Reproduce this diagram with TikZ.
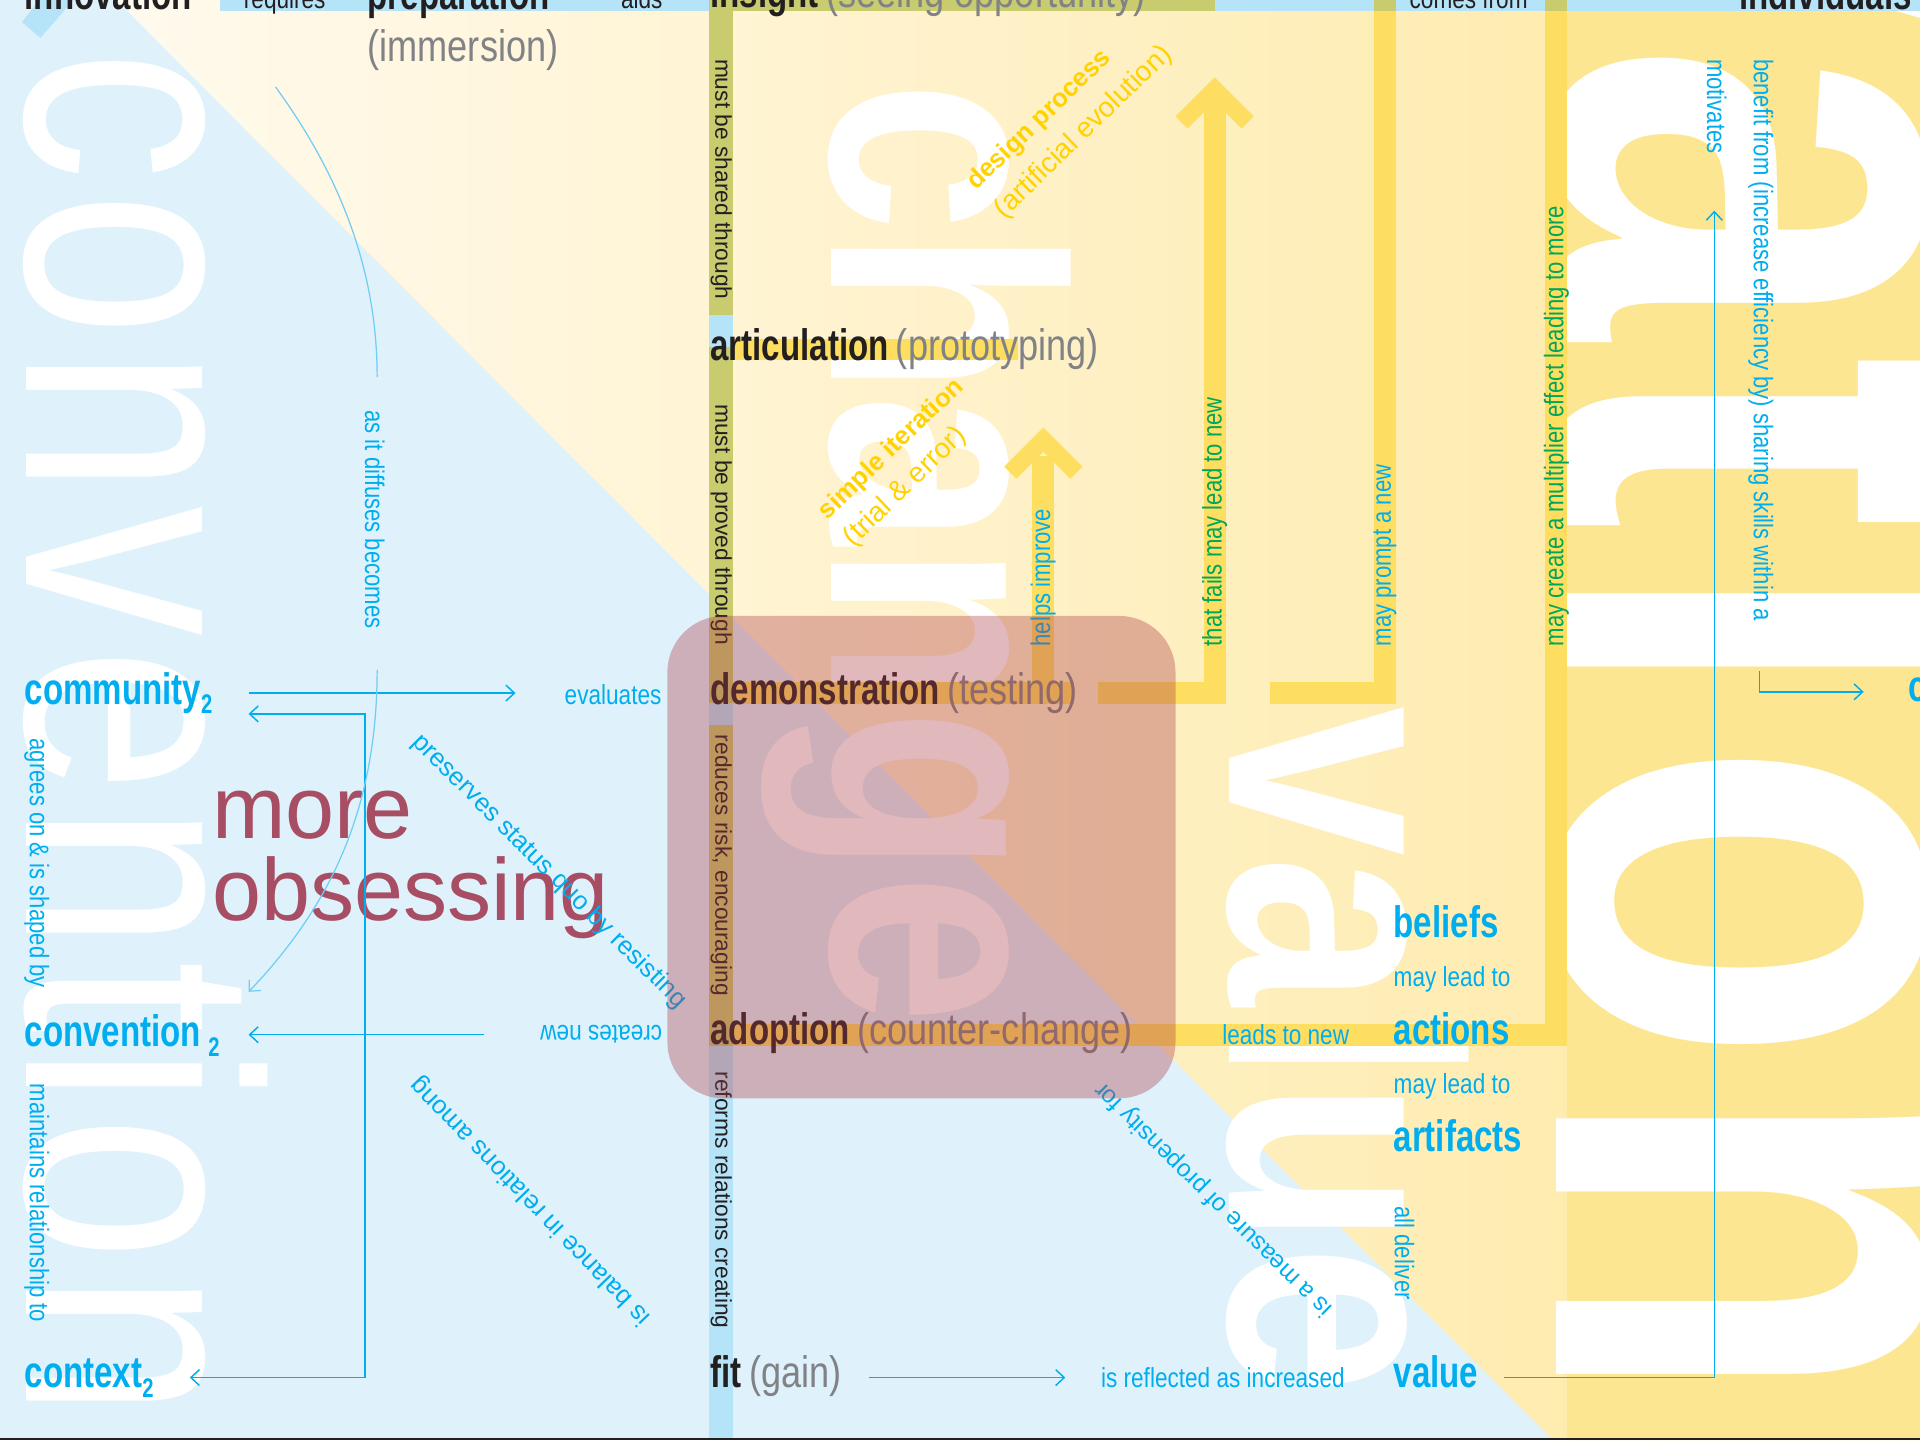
\documentclass[tikz,border=0pt]{standalone}
\usepackage{fontspec}
\setmainfont{Liberation Sans}
\newfontfamily\cnd{Liberation Sans}[FakeStretch=0.82]
\newfontfamily\cndb{Liberation Sans}[FakeStretch=0.75]
\newfontfamily\wordlight{Liberation Sans}[FakeStretch=0.78,LetterSpace=3.7]
\newfontfamily\wordbold{Liberation Sans}[FakeStretch=0.815]
\newfontfamily\wordwide{Liberation Sans}[FakeStretch=0.77,LetterSpace=2.3]
\usetikzlibrary{arrows.meta,calc}
\definecolor{bgblue}{RGB}{223,242,252}
\definecolor{stripblue}{RGB}{181,227,248}
\definecolor{cream}{RGB}{255,250,238}
\definecolor{sand}{RGB}{254,232,160}
\definecolor{gold}{RGB}{253,230,145}
\definecolor{barY}{RGB}{253,222,96}
\definecolor{olive}{RGB}{200,203,110}
\definecolor{linkcyan}{RGB}{0,174,239}
\definecolor{paleCyan}{RGB}{110,205,245}
\definecolor{inkdark}{RGB}{35,31,32}
\definecolor{inkgray}{RGB}{128,130,133}
\definecolor{leafgreen}{RGB}{0,166,90}
\definecolor{sunyellow}{RGB}{255,210,0}
\definecolor{plum}{RGB}{167,78,100}
\definecolor{boxrose}{RGB}{173,59,69}
\newcommand{\fsz}[1]{\fontsize{#1}{#1}\selectfont}
\newcommand{\two}{\raisebox{-8pt}{\fsz{22}2}}
\newcommand{\aside}[1]{{\cnd\mdseries\color{inkgray}#1}}

\begin{document}
\begin{tikzpicture}[x=1pt,y=-1pt,
  >={Straight Barb[length=7pt,width=13pt]},
  head/.style={inner sep=0pt,anchor=base west,font=\cndb\bfseries\fsz{36},text=inkdark},
  term/.style={inner sep=0pt,anchor=base west,font=\cndb\bfseries\fsz{36},text=linkcyan},
  verb/.style={inner sep=0pt,anchor=base west,font=\cnd\fsz{22.5},text=linkcyan},
  upverb/.style={inner sep=0pt,anchor=west,rotate=90,font=\cnd\fsz{22},text=#1},
  upverb/.default=linkcyan,
  downverb/.style={inner sep=0pt,anchor=west,rotate=-90,font=\cnd\fsz{22},text=linkcyan},
  slant/.style={inner sep=0pt,anchor=base west,rotate=#1,font=\fsz{21},text=linkcyan},
  spinenote/.style={inner sep=0pt,anchor=west,rotate=-90,font=\fsz{18.6},text=inkdark},
  method/.style={inner sep=0pt,anchor=base west,rotate=44,text=sunyellow},
  bigword/.style={inner sep=0pt,anchor=base west,rotate=-90,text=white},
  link/.style={linkcyan,line width=1.2pt},
  faint/.style={paleCyan,line width=1pt},
  chevron/.style={barY,line width=14pt,line join=miter}]

  \useasboundingbox (0,0) rectangle (1568,1176);
  \clip (0,0) rectangle (1568,1176);

  % ground
  \fill[bgblue] (0,0) rectangle (1568,1176);
  \shade[left color=cream,right color=sand] (95,0) -- (1568,0) -- (1568,1176) -- (1268,1176) -- cycle;
  \fill[gold] (1280,0) rectangle (1568,1176);
  \fill[stripblue] (32,0) -- (18,18) -- (33,31) -- (60,0) -- cycle;

  % big background words
  \node[bigword,font=\wordlight\fsz{272}] (wconv) at (22,41) {convention};
  \node[bigword,font=\wordbold\bfseries\fsz{270}] (wchange) at (679,66) {change};
  \node[bigword,font=\wordbold\bfseries\fsz{270}] (wvalue) at (1004,577) {value};
  \node[bigword,font=\wordwide\bfseries\fsz{566}] (wvation) at (1271,-225)
    {v\kern17pt at\kern20pt i\kern28pt on};

  % strip and spine
  \fill[stripblue] (180,0) rectangle (1568,9);
  \fill[stripblue] (579,0) rectangle (599,1176);
  \foreach \a/\b in {0/257,283/574,592/854}
    \fill[olive] (579,\a) rectangle (599,\b);

  % yellow tracks
  \fill[barY] (599,277) rectangle (831,294);
  \fill[barY] (599,557) rectangle (877,575);
  \fill[barY] (897,557) rectangle (1001,575);
  \fill[barY] (983,80) rectangle (1001,575);
  \fill[barY] (1037,557) rectangle (1140,575);
  \fill[barY] (1122,0) rectangle (1140,575);
  \fill[barY] (843,372) rectangle (861,575);
  \fill[barY] (599,836) rectangle (1280,854);
  \fill[barY] (1262,0) rectangle (1280,854);
  \draw[chevron] (965,100) -- (992,73) -- (1019,100);
  \draw[chevron] (825,386) -- (852,359) -- (879,386);
  \foreach \a/\b in {580/992,1122/1140,1262/1280}
    \fill[olive] (\a,0) rectangle (\b,9);

  % stages
  \node[head] (innov) at (20,8) {innovation};
  \node[verb,text=inkdark] (requires) at (199,7) {requires};
  \node[head] (prep) at (300,8) {preparation};
  \node[head,font=\cnd\fsz{36},text=inkgray] (immers) at (300,50) {(immersion)};
  \node[verb,text=inkdark] (aids) at (507,7) {aids};
  \node[head] (insight) at (580,6) {insight\hspace{6pt}\aside{(seeing opportunity)}};
  \node[verb,text=inkdark] (comes) at (1151,7) {comes from};
  \node[head] (indiv) at (1420,8) {individuals};
  \node[head] (artic) at (580,294) {articulation\hspace{6pt}\aside{(prototyping)}};
  \node[head] (demo) at (580,575) {demonstration\hspace{6pt}\aside{(testing)}};
  \node[head] (adopt) at (580,853) {adoption\hspace{6pt}\aside{(counter-change)}};
  \node[head] (fit) at (580,1133) {fit\hspace{6pt}\aside{(gain)}};

  \node[term] (comm) at (20,575) {community\two};
  \node[term] (conv) at (20,855) {convention\,\two};
  \node[term] (ctx) at (20,1133) {context\two};
  \node[term] (beliefs) at (1138,766) {beliefs};
  \node[verb] (lead1) at (1138,806) {may lead to};
  \node[term] (actions) at (1138,853) {actions};
  \node[verb] (lead2) at (1138,893) {may lead to};
  \node[term] (artifacts) at (1138,940) {artifacts};
  \node[term] (valuenode) at (1138,1133) {value};
  \node[term] (cnode) at (1558,573) {c};

  \node[verb] (eval) at (461,575) {evaluates};
  \node[verb,anchor=center,rotate=180] (creates) at (491,845) {creates new};
  \node[verb] (leads) at (998,853) {leads to new};
  \node[verb] (reflect) at (899,1133) {is reflected as increased};

  \node[inner sep=0pt,anchor=base west,font=\fsz{72},text=plum] (more) at (173,685) {more};
  \node[inner sep=0pt,anchor=base west,font=\fsz{72},text=plum] (obsess) at (173,752) {obsessing};

  % notes along the spine
  \node[spinenote] (shared) at (589,48) {must be shared through};
  \node[spinenote] (proved) at (589,330) {must be proved through};
  \node[spinenote] (reduces) at (589,600) {reduces risk, encouraging};
  \node[spinenote] (reforms) at (589,875) {reforms relations creating};

  \node[downverb] (diffuse) at (306,335) {as it diffuses becomes};
  \node[downverb] (agrees) at (30,603) {agrees on \& is shaped by};
  \node[downverb] (maintains) at (30,885) {maintains relationship to};
  \node[downverb] (motiv) at (1402,48) {motivates};
  \node[downverb] (benefit) at (1438,48) {benefit from (increase efficiency by) sharing skills within a};
  \node[downverb] (deliver) at (1147,985) {all deliver};

  \node[upverb] (helps) at (852,528) {helps improve};
  \node[upverb=leafgreen] (fails) at (992,528) {that fails may lead to new};
  \node[upverb] (prompt) at (1131,528) {may prompt a new};
  \node[upverb=leafgreen] (multi) at (1271,528) {may create a multiplier effect leading to more};

  \node[slant=-45] (preserve) at (336,607) {preserves status quo by resisting};
  \node[slant=134] (balance) at (532,1075) {is balance in relations among};
  \node[slant=135.5,font=\fsz{20}] (measure) at (1089,1068) {is a measure of propensity for};

  \node[method,font=\bfseries\fsz{21}] (design) at (797,156) {design process};
  \node[method,font=\fsz{23}] (evolution) at (820,179) {(artificial evolution)};
  \node[method,font=\bfseries\fsz{21}] (simple) at (676,425) {simple iteration};
  \node[method,font=\fsz{23}] (trial) at (697,447) {(trial \& error)};

  % thin links
  \coordinate (fork) at (298,1125);
  \draw[link,->] ($(comm.base west)+(183,-9)$) -- ($(eval.base west)+(-40,-9)$);
  \draw[link,<->] ($(comm.base west)+(183,8)$) -| (fork) -- ($(ctx.base west)+(135,-8)$);
  \draw[link,->] ($(creates.center)+(-96,0)$) -- ($(conv.base west)+(183,-10)$);
  \draw[link,->] ($(fit.base west)+(130,-8)$) -- ($(reflect.base west)+(-29,-8)$);
  \draw[link,->] ($(valuenode.base west)+(90,-8)$) -| ($(motiv.west)+(-2,124)$);
  \draw[link,->] ($(benefit.west)+(-1,500)$) |- ($(cnode.base west)+(-36,-8)$);
  \draw[faint] ($(innov.base west)+(205,63)$) .. controls (290,160) and (308,240) .. ($(diffuse.west)+(2,-27)$);
  \draw[faint,->] ($(diffuse.west)+(2,212)$) .. controls (308,660) and (270,740) .. ($(conv.base west)+(183,-45)$);

  % tinted panel over demonstration and adoption
  \fill[boxrose,opacity=.36,rounded corners=46pt] (545,503) rectangle (960,897);

  \draw[inkdark,line width=1.5pt] (0,1175.5) -- (1568,1175.5);
\end{tikzpicture}
\end{document}
